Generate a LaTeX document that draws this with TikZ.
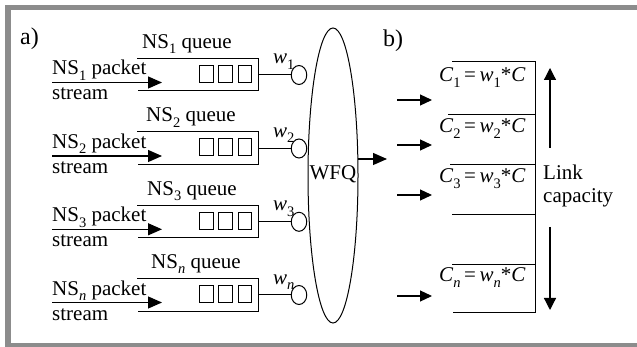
\documentclass[tikz,border=0pt]{standalone}
\usepackage{fontspec}
\setmainfont{Liberation Serif}
\usetikzlibrary{arrows.meta,shapes.geometric}
\definecolor{framegray}{RGB}{140,140,140}
\newcommand\sbs[1]{\raisebox{-5.5pt}{\fontsize{14.5}{14.5}\selectfont #1}}
\begin{document}
\begin{tikzpicture}[x=1pt,y=-1pt,
  txt/.style={anchor=base west,inner sep=0pt,font=\fontsize{21}{24}\selectfont},
  lbl/.style={anchor=base west,inner sep=0pt,font=\fontsize{24}{27}\selectfont},
  ln/.style={line width=1pt},
  arr/.style={line width=1.2pt,-{Triangle[length=14pt,width=12pt]}},
  sarr/.style={line width=1.2pt,-{Triangle[length=12pt,width=11pt]}},
  varr/.style={line width=1.2pt,-{Triangle[length=12pt,width=12pt]}},
  cell/.style={draw,line width=1pt,minimum width=13.5pt,minimum height=17pt,inner sep=0pt},
  wnode/.style={draw,ellipse,line width=1pt,minimum width=15.5pt,minimum height=19pt,inner sep=0pt}]
\useasboundingbox (0,0) rectangle (637,347);
% frame
\draw[framegray,line width=5.5pt] (8,7.5) rectangle (660,345.5);
% labels
\node[lbl] (la) at (20,45) {a)};
\node[lbl] (lb) at (383,47) {b)};
% queue rows
\foreach \i/\dy/\s/\qx in {1/0/\sbs{1}/142, 2/73.5/\sbs{2}/146, 3/146.8/\sbs{3}/147, n/220/\sbs{\textit{n}}/151}{
  \node[txt] (pk\i) at (52,75+\dy) {NS\s\ packet};
  \node[txt] (st\i) at (52,100+\dy) {stream};
  \node[txt] (qn\i) at (\qx,48.3+\dy) {NS\s\ queue};
  \draw[ln] (137,58.5+\dy) -- (258.5,58.5+\dy) -- (258.5,91+\dy) -- (137.5,91+\dy);
  \coordinate (qr\i) at (258.5,75+\dy);
  \node[cell] (c1\i) at (206.7,74+\dy) {};
  \node[cell] (c2\i) at (225.4,74+\dy) {};
  \node[cell] (c3\i) at (245.2,74+\dy) {};
  \node[wnode] (w\i) at (299,75+\dy) {};
  \draw[ln] (qr\i) -- (w\i.west);
  \node[txt] (wl\i) at (273,64+\dy) {\textit{w}\s};
  \coordinate (as\i) at (52,82.5+\dy);
  \coordinate (ae\i) at (162,82.5+\dy);
  \draw[arr] (as\i) -- (ae\i);
}
% WFQ
\node[draw,ellipse,line width=1pt,minimum width=50pt,minimum height=295pt,inner sep=0pt] (wfq) at (333,175.5) {};
\node[txt,anchor=base] (wfqt) at (333,180) {WFQ};
\coordinate (wo) at (357.5,159);
\coordinate (we) at (387,159);
\draw[arr] (wo) -- (we);
% link block
\draw[ln] (452,62) -- (535.5,62) -- (535.5,312) -- (453,312);
\foreach \y/\x in {115/448,165/450,215/452,265/452}{
  \draw[ln] (\x,\y) -- (535.5,\y);
}
\node[txt] (cap1) at (439,82) {\textit{C}\sbs{1}\,=\,\textit{w}\sbs{1}*\textit{C}};
\node[txt] (cap2) at (439,133) {\textit{C}\sbs{2}\,=\,\textit{w}\sbs{2}*\textit{C}};
\node[txt] (cap3) at (439,183) {\textit{C}\sbs{3}\,=\,\textit{w}\sbs{3}*\textit{C}};
\node[txt] (capn) at (439,282) {\textit{C}\sbs{\textit{n}}\,=\,\textit{w}\sbs{\textit{n}}*\textit{C}};
\foreach \k/\y in {1/100,2/145,3/195,n/296}{
  \coordinate (ls\k) at (397,\y);
  \coordinate (le\k) at (432,\y);
  \draw[sarr] (ls\k) -- (le\k);
}
% link capacity
\coordinate (u1) at (550,148);
\coordinate (u2) at (550,68);
\coordinate (d1) at (550,227);
\coordinate (d2) at (550,310);
\draw[varr] (u1) -- (u2);
\draw[varr] (d1) -- (d2);
\node[txt] (lk) at (543,180) {Link};
\node[txt] (lc) at (543,203) {capacity};
\end{tikzpicture}
\end{document}
